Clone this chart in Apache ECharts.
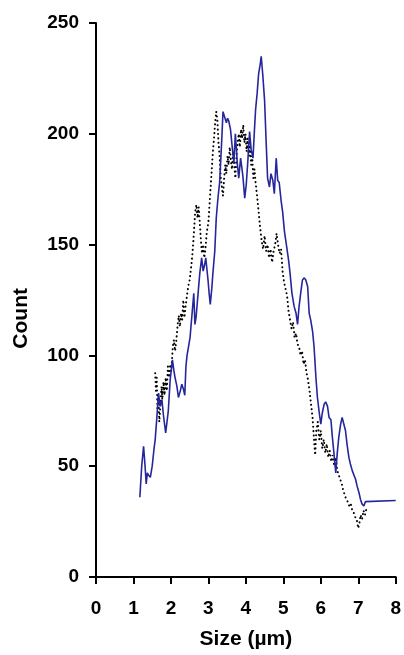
<!DOCTYPE html>
<html>
<head>
<meta charset="utf-8">
<script src="https://cdn.jsdelivr.net/npm/echarts@6/dist/echarts.min.js"></script>
<style>
  html, body { margin: 0; padding: 0; background: #fff; }
  #chart { width: 404px; height: 655px; }
</style>
</head>
<body>
<div id="chart"></div>
<script>
// x axis ticks (size, um) and y axis ticks (count)
const xTicks = [0, 1, 2, 3, 4, 5, 6, 7, 8]
const yTicks = [0, 50, 100, 150, 200, 250]

// blue solid trace: [size, count]
const blueLine = [
  [1.17, 36], [1.22, 50], [1.27, 59], [1.31, 50], [1.34, 42], [1.37, 47], [1.40, 46],
  [1.45, 45], [1.50, 50], [1.55, 58], [1.58, 62], [1.62, 71], [1.67, 83], [1.71, 77],
  [1.76, 80], [1.80, 73], [1.86, 65], [1.93, 75], [1.98, 89], [2.04, 98], [2.08, 93],
  [2.11, 90], [2.16, 86], [2.20, 81], [2.25, 84], [2.29, 87], [2.33, 85], [2.37, 82],
  [2.40, 95], [2.43, 100], [2.47, 104], [2.51, 108], [2.56, 118], [2.61, 128], [2.64, 114],
  [2.67, 117], [2.73, 129], [2.77, 137], [2.82, 144], [2.86, 138], [2.90, 141], [2.93, 144],
  [2.96, 139], [2.99, 134], [3.02, 128], [3.05, 123], [3.09, 130], [3.12, 137], [3.17, 147],
  [3.21, 162], [3.25, 170], [3.28, 175], [3.30, 178], [3.35, 195], [3.39, 210], [3.44, 210],
  [3.48, 205], [3.51, 207], [3.54, 206], [3.59, 202], [3.63, 195], [3.68, 187], [3.72, 200],
  [3.77, 187], [3.81, 180], [3.86, 189], [3.92, 181], [3.97, 171], [4.01, 177], [4.05, 187],
  [4.10, 201], [4.14, 193], [4.19, 189], [4.23, 202], [4.26, 211], [4.30, 218], [4.34, 227],
  [4.38, 231], [4.41, 235], [4.45, 227], [4.50, 215], [4.54, 197], [4.58, 180], [4.63, 176],
  [4.67, 182], [4.72, 179], [4.76, 173], [4.81, 189], [4.85, 179], [4.89, 178], [4.94, 170],
  [4.98, 165], [5.03, 156], [5.09, 149], [5.14, 143], [5.18, 137], [5.23, 128], [5.29, 122],
  [5.34, 119], [5.38, 114], [5.42, 122], [5.47, 129], [5.51, 134], [5.56, 135], [5.60, 134],
  [5.65, 131], [5.69, 119], [5.73, 116], [5.78, 111], [5.82, 104], [5.87, 90], [5.91, 81],
  [5.96, 74], [6.00, 69], [6.04, 74], [6.09, 78], [6.13, 79], [6.18, 77], [6.22, 72],
  [6.27, 71], [6.31, 63], [6.35, 56], [6.40, 47], [6.44, 56], [6.48, 63], [6.53, 69],
  [6.57, 72], [6.62, 72], [6.66, 66], [6.70, 60], [6.75, 54], [6.79, 51], [6.84, 48],
  [6.88, 48], [6.93, 44], [6.97, 41], [7.02, 38], [7.06, 35], [7.10, 33], [7.15, 32],
  [7.19, 34], [7.24, 34.5], [8.00, 34.5]
]

// black dotted trace: [size, count]
const dotLine = [
  [1.58, 92], [1.60, 84], [1.62, 90], [1.64, 76], [1.66, 82], [1.69, 70], [1.72, 78],
  [1.75, 86], [1.77, 80], [1.80, 88], [1.83, 82], [1.86, 90], [1.89, 84], [1.92, 95],
  [1.95, 90], [1.98, 96], [2.01, 93], [2.05, 104], [2.08, 107], [2.11, 102], [2.14, 106],
  [2.18, 114], [2.21, 118], [2.24, 113], [2.27, 119], [2.30, 116], [2.33, 125], [2.36, 117],
  [2.39, 122], [2.42, 126], [2.46, 131], [2.50, 134], [2.54, 140], [2.57, 145], [2.60, 152],
  [2.63, 160], [2.65, 165], [2.68, 168], [2.71, 162], [2.74, 167], [2.77, 160], [2.80, 152],
  [2.83, 146], [2.86, 150], [2.89, 144], [2.92, 148], [2.96, 156], [3.00, 160], [3.03, 168],
  [3.06, 176], [3.09, 184], [3.12, 192], [3.15, 198], [3.18, 205], [3.21, 210], [3.24, 206],
  [3.27, 196], [3.30, 190], [3.33, 180], [3.36, 176], [3.39, 172], [3.42, 180], [3.45, 186],
  [3.48, 182], [3.51, 190], [3.54, 186], [3.57, 194], [3.60, 188], [3.63, 184], [3.66, 192],
  [3.69, 186], [3.72, 180], [3.75, 190], [3.78, 196], [3.81, 200], [3.84, 194], [3.87, 202],
  [3.90, 198], [3.93, 204], [3.96, 196], [3.99, 200], [4.02, 192], [4.05, 198], [4.08, 190],
  [4.11, 196], [4.14, 186], [4.17, 190], [4.20, 180], [4.23, 184], [4.26, 178], [4.30, 172],
  [4.34, 165], [4.38, 158], [4.42, 152], [4.46, 148], [4.50, 154], [4.54, 147], [4.58, 150],
  [4.62, 144], [4.66, 148], [4.70, 142], [4.74, 147], [4.78, 150], [4.82, 155], [4.86, 150],
  [4.90, 146], [4.94, 148], [4.98, 138], [5.02, 133], [5.06, 130], [5.10, 127], [5.14, 120],
  [5.18, 116], [5.22, 112], [5.26, 115], [5.30, 108], [5.34, 110], [5.38, 105], [5.42, 104],
  [5.46, 100], [5.50, 102], [5.54, 96], [5.58, 98], [5.62, 92], [5.66, 89], [5.70, 84],
  [5.74, 78], [5.78, 72], [5.82, 62], [5.85, 55], [5.88, 66], [5.92, 70], [5.96, 62],
  [6.00, 66], [6.04, 58], [6.08, 62], [6.12, 56], [6.16, 60], [6.20, 54], [6.24, 57],
  [6.28, 52], [6.32, 55], [6.36, 50], [6.40, 54], [6.44, 48], [6.48, 46], [6.52, 44],
  [6.56, 42], [6.60, 39], [6.64, 37], [6.68, 35], [6.72, 34], [6.76, 32], [6.80, 33],
  [6.84, 30], [6.88, 29], [6.92, 27], [6.96, 26], [7.00, 22], [7.03, 24], [7.06, 28],
  [7.10, 26], [7.14, 30], [7.18, 28], [7.22, 31]
]

const font = 'Liberation Sans, Arial, Helvetica, sans-serif'
const axisLine = {show: true, lineStyle: {color: '#000', width: 2}}
const axisTick = {show: true, inside: false, length: 7, lineStyle: {color: '#000', width: 2}}
const labelStyle = {color: '#000', fontFamily: font, fontWeight: 'bold', fontSize: 19}
const titleStyle = {...labelStyle, fontSize: 21}

const chart = echarts.init(document.getElementById('chart'), null, {renderer: 'canvas'})

chart.setOption({
  animation: false,
  backgroundColor: '#fff',
  grid: {left: 96, right: 7, top: 23, bottom: 77, containLabel: false},
  xAxis: {
    type: 'value',
    min: xTicks[0],
    max: xTicks[xTicks.length - 1],
    interval: 1,
    name: 'Size (µm)',
    nameLocation: 'middle',
    nameGap: 52,
    nameTextStyle: titleStyle,
    axisLine,
    axisTick,
    splitLine: {show: false},
    axisLabel: {...labelStyle, margin: 22},
  },
  yAxis: {
    type: 'value',
    min: yTicks[0],
    max: yTicks[yTicks.length - 1],
    interval: 50,
    axisLine,
    axisTick,
    splitLine: {show: false},
    axisLabel: {...labelStyle, margin: 17},
  },
  graphic: [{
    type: 'text',
    left: 11,
    top: 288,
    rotation: Math.PI / 2,
    style: {text: 'Count', fill: '#000', font: 'bold 21px ' + font},
  }],
  series: [
    {
      type: 'line',
      data: dotLine,
      showSymbol: false,
      lineStyle: {color: '#000', width: 2, type: [0.1, 4.3], cap: 'round'},
      z: 2,
    },
    {
      type: 'line',
      data: blueLine,
      showSymbol: false,
      lineStyle: {color: '#26269c', width: 1.6},
      z: 3,
    },
  ],
})
</script>
</body>
</html>
